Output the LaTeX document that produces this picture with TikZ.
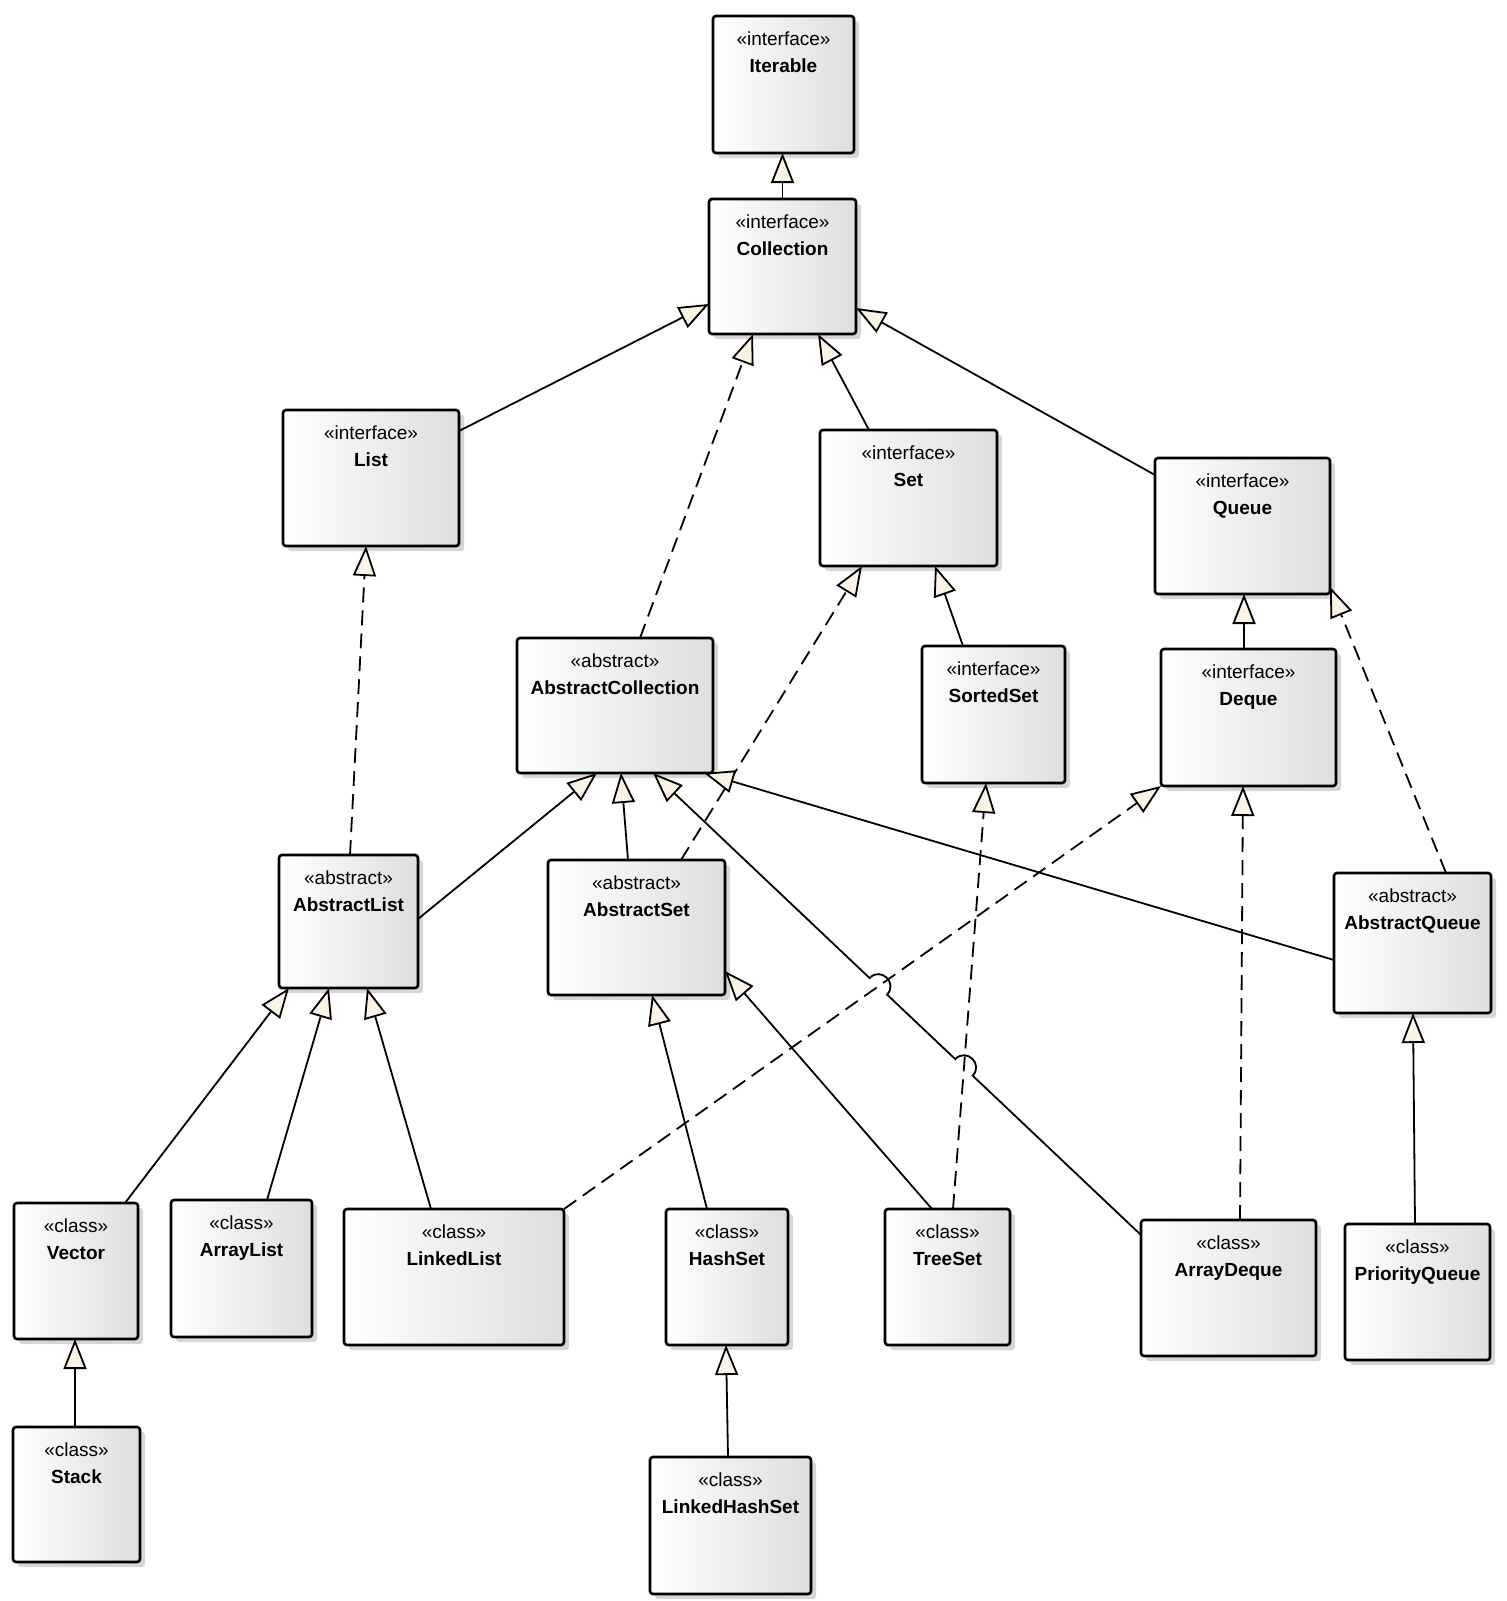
\documentclass[tikz,border=0pt]{standalone}
\usepackage{fontspec}
\setmainfont{Liberation Sans}
\usetikzlibrary{arrows.meta,calc,intersections,shadows}
\definecolor{tipfill}{RGB}{250,243,230}
\definecolor{boxgray}{RGB}{222,222,222}
\definecolor{shadowgray}{RGB}{214,214,214}
\tikzset{
  umlbox/.style={draw=black, line width=1.3pt, rounded corners=1.5pt,
    left color=white, right color=boxgray, inner sep=0pt, outer sep=0pt,
    drop shadow={shadow xshift=2.5pt, shadow yshift=-2.5pt, fill=shadowgray, opacity=1}},
  stereo/.style={anchor=base, inner sep=0pt, font=\fontsize{9.5}{11}\selectfont},
  cname/.style={anchor=base, inner sep=0pt, font=\fontsize{9.5}{11}\selectfont\bfseries},
  gen/.style={line width=0.9pt, -{Triangle[length=15pt, width=11.5pt, fill=tipfill]}},
  realize/.style={gen, dash pattern=on 7.5pt off 4pt},
}
\newcommand\umlclass[7]{%
  \node[umlbox, minimum width=#4, minimum height=#5, anchor=north west] (#1) at (#2,#3) {};
  \node[stereo] (#1-s) at ($(#1.north)+(0,29)$) {«#6»};
  \node[cname] (#1-n) at ($(#1.north)+(0,56)$) {#7};}
\begin{document}
\begin{tikzpicture}[x=0.5pt, y=-0.5pt]
\useasboundingbox (0,0) rectangle (1507,1601);
% classes
\umlclass{It}{713}{16}{70.5pt}{68.5pt}{interface}{Iterable}
\umlclass{Co}{709}{199}{73.5pt}{67.5pt}{interface}{Collection}
\umlclass{Li}{283}{410}{88pt}{68pt}{interface}{List}
\umlclass{Se}{820}{430}{88.5pt}{68pt}{interface}{Set}
\umlclass{Qu}{1155}{458}{87.5pt}{68pt}{interface}{Queue}
\umlclass{AC}{517}{638}{98pt}{67.5pt}{abstract}{AbstractCollection}
\umlclass{SS}{922}{646}{71.5pt}{68.5pt}{interface}{SortedSet}
\umlclass{De}{1161}{649}{87.5pt}{68.5pt}{interface}{Deque}
\umlclass{AL}{279}{855}{69.5pt}{66.5pt}{abstract}{AbstractList}
\umlclass{AS}{548}{860}{88.5pt}{67.5pt}{abstract}{AbstractSet}
\umlclass{AQ}{1334}{873}{78.5pt}{70pt}{abstract}{AbstractQueue}
\umlclass{Ve}{14}{1203}{62pt}{68pt}{class}{Vector}
\umlclass{AR}{171}{1200}{70.5pt}{68.5pt}{class}{ArrayList}
\umlclass{LL}{344}{1209}{110pt}{68pt}{class}{LinkedList}
\umlclass{HS}{666}{1209}{61pt}{68pt}{class}{HashSet}
\umlclass{TS}{885}{1209}{62.5pt}{68pt}{class}{TreeSet}
\umlclass{AD}{1141}{1220}{87.5pt}{68pt}{class}{ArrayDeque}
\umlclass{PQ}{1345}{1224}{72.5pt}{68pt}{class}{PriorityQueue}
\umlclass{St}{13}{1427}{63.5pt}{67.5pt}{class}{Stack}
\umlclass{LH}{650}{1457}{80.5pt}{68.5pt}{class}{LinkedHashSet}
% connectors
\draw[gen] (Co.north) -- (Co.north |- It.south);
\draw[gen] ($(Li.north east)+(0,21)$) -- ($(Co.north west)+(0,105)$);
\draw[realize] ($(AC.north west)+(123,0)$) -- ($(Co.south west)+(44,0)$);
\draw[gen] ($(Se.north west)+(49,0)$) -- ($(Co.south west)+(109,0)$);
\draw[gen] ($(Qu.north west)+(0,17)$) -- ($(Co.north east)+(0,109)$);
\draw[realize] ($(AL.north west)+(71,0)$) -- ($(Li.south west)+(83,0)$);
\draw[realize] ($(AS.north west)+(133,0)$) -- ($(Se.south west)+(42,0)$);
\draw[gen] ($(SS.north west)+(41,0)$) -- ($(Se.south west)+(115,0)$);
\draw[gen] ($(De.north west)+(83,0)$) -- ($(Qu.south west)+(89,0)$);
\draw[realize] ($(AQ.north west)+(112,0)$) -- ($(Qu.north east)+(0,129)$);
\draw[gen] ($(AL.north east)+(0,64)$) -- ($(AC.south west)+(80,0)$);
\draw[gen] ($(AS.north west)+(80,0)$) -- ($(AC.south west)+(104,0)$);
\draw[gen] ($(AQ.north west)+(0,87)$) -- ($(AC.south west)+(187,0)$);
\draw[realize, name path=llde] (LL.north east) -- (De.south west);
\draw[realize, name path=tsss] ($(TS.north west)+(68,0)$) -- ($(SS.south west)+(64,0)$);
\draw[realize] ($(AD.north west)+(99,0)$) -- ($(De.south west)+(82,0)$);
\draw[gen] ($(PQ.north west)+(70,0)$) -- ($(AQ.south west)+(79,0)$);
\draw[gen] ($(Ve.north west)+(111,0)$) -- ($(AL.south west)+(10,0)$);
\draw[gen] ($(AR.north west)+(96,0)$) -- ($(AL.south west)+(50,0)$);
\draw[gen] ($(LL.north west)+(87,0)$) -- ($(AL.south west)+(88,0)$);
\draw[gen] ($(HS.north west)+(41,0)$) -- ($(AS.south west)+(104,0)$);
\draw[gen] ($(TS.north west)+(47,0)$) -- ($(AS.south east)+(0,-24)$);
\draw[gen] ($(LH.north west)+(78,0)$) -- ($(HS.south west)+(60,0)$);
\draw[gen] ($(St.north west)+(62,0)$) -- ($(Ve.south west)+(61,0)$);
% ArrayDeque -> AbstractCollection with line hops
\coordinate (adS) at ($(AD.north west)+(0,15)$);
\coordinate (adT) at ($(AC.south west)+(136,0)$);
\path[name path=adac] (adS) -- (adT);
\path[name intersections={of=adac and llde, by=X1}];
\path[name intersections={of=adac and tsss, by=X2}];
\coordinate (h2a) at ($(X2)!6pt!(adS)$);
\coordinate (h2b) at ($(X2)!6pt!(adT)$);
\coordinate (c2a) at ($(h2a)!8pt!-90:(X2)$);
\coordinate (c2b) at ($(h2b)!8pt!90:(X2)$);
\coordinate (h1a) at ($(X1)!6pt!(adS)$);
\coordinate (h1b) at ($(X1)!6pt!(adT)$);
\coordinate (c1a) at ($(h1a)!8pt!-90:(X1)$);
\coordinate (c1b) at ($(h1b)!8pt!90:(X1)$);
\draw[gen] (adS) -- (h2a) .. controls (c2a) and (c2b) .. (h2b) -- (h1a) .. controls (c1a) and (c1b) .. (h1b) -- (adT);
\end{tikzpicture}
\end{document}
